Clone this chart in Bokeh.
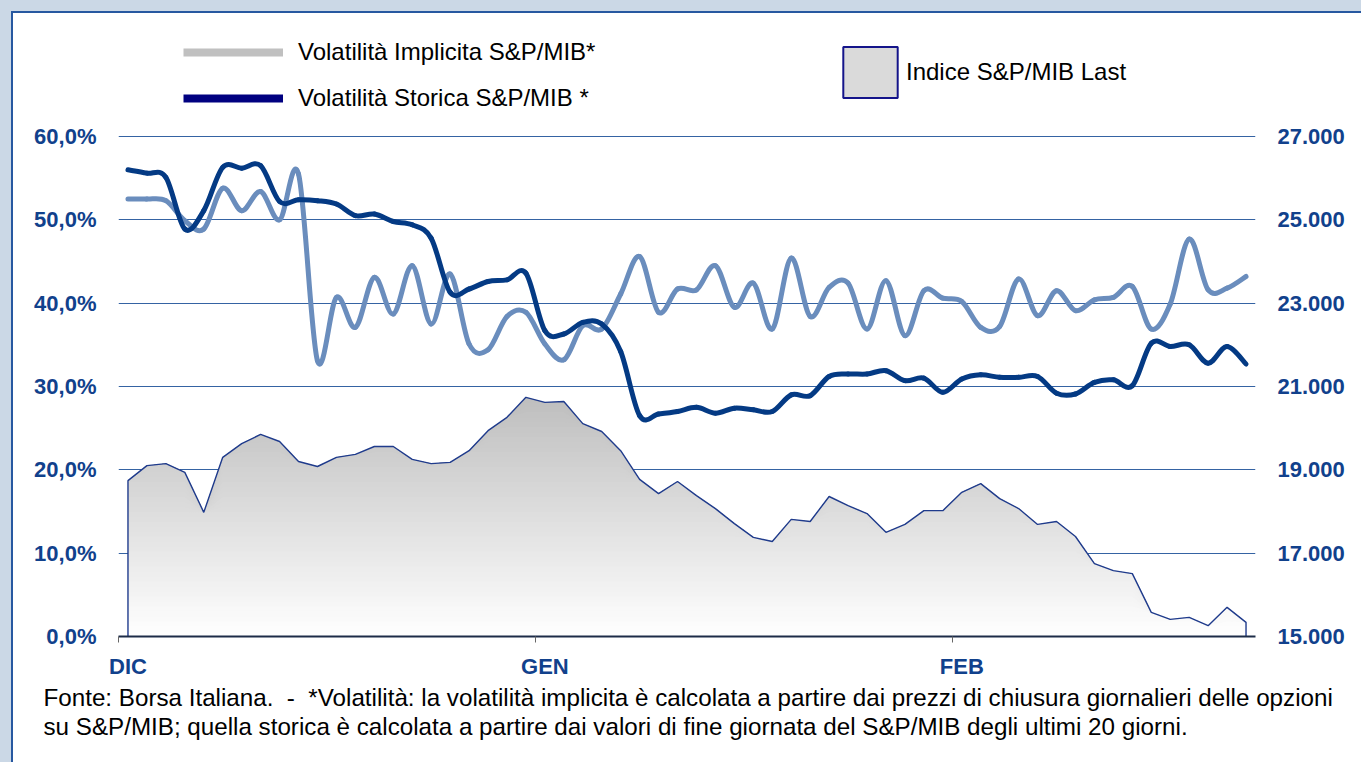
import numpy as np
from bokeh.plotting import figure
from bokeh.models import Range1d, LinearAxis, FixedTicker, Legend, LegendItem, Title
from bokeh.embed import file_html
from bokeh.resources import INLINE

# ---------------- data ----------------
months = ["DIC", "GEN", "FEB"]
month_start = [0, 22, 44]          # trading-day index where each month begins
n_days = 60

vol_implicita = [52.5, 52.5, 52.3, 49.9, 48.9, 53.8, 51.1, 53.4, 50.0, 55.5,
                 33.1, 40.7, 37.1, 43.1, 38.7, 44.5, 37.5, 43.5, 35.1, 34.4,
                 38.4, 38.9, 35.1, 33.2, 37.3, 36.9, 41.1, 45.6, 38.9, 41.7,
                 41.6, 44.5, 39.5, 42.4, 36.9, 45.4, 38.4, 41.9, 42.4, 36.9,
                 42.7, 36.1, 41.5, 40.6, 40.2, 37.1, 37.2, 42.9, 38.5, 41.5,
                 39.1, 40.4, 40.7, 42.0, 36.9, 39.9, 47.7, 41.6, 41.8, 43.2]

vol_storica = [56.0, 55.6, 55.1, 48.9, 51.1, 56.3, 56.2, 56.5, 52.2, 52.4,
               52.3, 51.9, 50.5, 50.7, 49.8, 49.4, 47.8, 41.3, 41.7, 42.6,
               42.8, 43.6, 36.7, 36.3, 37.7, 37.5, 34.2, 26.5, 26.7, 27.0,
               27.5, 26.8, 27.4, 27.2, 27.0, 29.0, 28.9, 31.2, 31.5, 31.5,
               31.9, 30.7, 31.0, 29.3, 30.9, 31.4, 31.1, 31.1, 31.2, 29.2,
               29.1, 30.5, 30.8, 30.1, 35.2, 34.8, 35.0, 32.8, 34.8, 32.7]

indice = [18740, 19100, 19150, 18940, 17980, 19300, 19630, 19850, 19680, 19200,
          19080, 19300, 19370, 19560, 19560, 19250, 19150, 19180, 19460, 19940,
          20260, 20740, 20620, 20640, 20110, 19920, 19460, 18770, 18430, 18720,
          18380, 18070, 17710, 17380, 17280, 17810, 17760, 18360, 18140, 17950,
          17500, 17690, 18020, 18020, 18460, 18670, 18310, 18070, 17690, 17760,
          17400, 16750, 16580, 16510, 15580, 15410, 15460, 15260, 15700, 15340]

pct_ticks = [0, 10, 20, 30, 40, 50, 60]
idx_ticks = [15000, 17000, 19000, 21000, 23000, 25000, 27000]
pct_labels = [f"{v:.1f}%".replace(".", ",") for v in pct_ticks]
idx_labels = [f"{v:,}".replace(",", ".") for v in idx_ticks]

legend_implicita = "Volatilità Implicita S&P/MIB*"
legend_storica = "Volatilità Storica S&P/MIB *"
legend_indice = "Indice S&P/MIB Last"
NB = "\u00a0"
note_1 = ("Fonte: Borsa Italiana." + NB + " -" + NB + " *Volatilità: la volatilità implicita è "
          "calcolata a partire dai prezzi di chiusura giornalieri delle opzioni")
note_2 = ("su S&P/MIB; quella storica è calcolata a partire dai valori di fine giornata del "
          "S&P/MIB degli ultimi 20 giorni.")

# ---------------- style ----------------
FONT = "Liberation Sans"
AXIS_BLUE = "#11418c"
GRID = "#3563a3"
C_IMPL = "#6a8dbd"
C_STOR = "#043a84"
C_AREA_LINE = "#1f3b8c"

days = np.arange(n_days) + 0.5
IDX_MIN, IDX_MAX = idx_ticks[0], idx_ticks[-1]

# plot frame is extended upward (empty headroom) so that the legends sit inside it
FRAME_PX = 500                       # pixel height of the 0..60 % span
HEAD_PX = 113                        # headroom above the 60 % gridline
pct_top = pct_ticks[-1] + HEAD_PX * (pct_ticks[-1] - pct_ticks[0]) / FRAME_PX
idx_top = IDX_MAX + HEAD_PX * (IDX_MAX - IDX_MIN) / FRAME_PX

p = figure(width=1339, height=740, output_backend="svg", toolbar_location=None,
           x_range=Range1d(0, n_days), y_range=Range1d(pct_ticks[0], pct_top),
           min_border_left=105, min_border_right=97, min_border_top=10, min_border_bottom=117,
           background_fill_color="white", border_fill_color="white")
p.outline_line_color = None
p.extra_y_ranges = {"idx": Range1d(IDX_MIN, idx_top)}

# ---- axes ----
p.yaxis.ticker = FixedTicker(ticks=pct_ticks)
p.yaxis.major_label_overrides = {t: l for t, l in zip(pct_ticks, pct_labels)}
p.xaxis.ticker = FixedTicker(ticks=[s + 0.5 for s in month_start], minor_ticks=month_start)
p.xaxis.major_label_overrides = {s + 0.5: m for s, m in zip(month_start, months)}

ax_r = LinearAxis(y_range_name="idx", ticker=FixedTicker(ticks=idx_ticks),
                  major_label_overrides={t: l for t, l in zip(idx_ticks, idx_labels)})
p.add_layout(ax_r, "right")

for ax in [p.yaxis[0], ax_r]:
    ax.axis_line_color = None
    ax.major_tick_line_color = None
    ax.minor_tick_line_color = None
    ax.major_tick_out = 0
    ax.major_label_standoff = 22
    ax.major_label_text_font = FONT
    ax.major_label_text_font_style = "bold"
    ax.major_label_text_font_size = "22px"
    ax.major_label_text_color = AXIS_BLUE

xa = p.xaxis[0]
xa.axis_line_color = "#1d2c48"
xa.axis_line_width = 2
xa.major_tick_line_color = None
xa.major_tick_out = 0
xa.minor_tick_line_color = "#666666"
xa.minor_tick_in = 0
xa.minor_tick_out = 6
xa.major_label_standoff = 11
xa.major_label_text_font = FONT
xa.major_label_text_font_style = "bold"
xa.major_label_text_font_size = "22px"
xa.major_label_text_color = AXIS_BLUE

p.xgrid.grid_line_color = None
p.ygrid.grid_line_color = GRID
p.ygrid.grid_line_width = 1

# ---- index area with vertical grey-to-white gradient (stacked bands) ----
idx_arr = np.asarray(indice, float)
top = idx_arr.max()
nb = 48
levels = np.linspace(top, IDX_MIN, nb + 1)
for k in range(nb):
    mid = 0.5 * (levels[k] + levels[k + 1])
    frac = (mid - IDX_MIN) / (top - IDX_MIN)
    g = int(round(255 - (255 - 190) * frac))
    p.varea(x=days, y1=IDX_MIN, y2=np.minimum(idx_arr, levels[k]),
            fill_color=f"#{g:02x}{g:02x}{g:02x}", y_range_name="idx")

p.line(x=np.concatenate([[days[0]], days, [days[-1]]]),
       y=np.concatenate([[IDX_MIN], idx_arr, [IDX_MIN]]),
       line_color=C_AREA_LINE, line_width=1.4, y_range_name="idx")


# ---- smoothed lines (Excel-style bezier smoothing) ----
def smooth(xs, ys):
    xs = np.asarray(xs, float)
    ys = np.asarray(ys, float)
    n = len(xs)
    i = np.arange(n - 1)
    i0 = np.maximum(i - 1, 0)
    i3 = np.minimum(i + 2, n - 1)
    return dict(x0=xs[i], y0=ys[i], x1=xs[i + 1], y1=ys[i + 1],
                cx0=xs[i] + (xs[i + 1] - xs[i0]) / 6, cy0=ys[i] + (ys[i + 1] - ys[i0]) / 6,
                cx1=xs[i + 1] - (xs[i3] - xs[i]) / 6, cy1=ys[i + 1] - (ys[i3] - ys[i]) / 6)


p.bezier(**smooth(days, vol_implicita), line_color=C_IMPL, line_width=5, line_cap="round")
p.bezier(**smooth(days, vol_storica), line_color=C_STOR, line_width=5, line_cap="round")

# ---- legends (legend-only proxy renderers, with no drawable points) ----
nan2 = [np.nan, np.nan]
r_leg_impl = p.line(x=days[:2], y=nan2, line_color="#c0c0c0", line_width=8)
r_leg_stor = p.line(x=days[:2], y=nan2, line_color="#000080", line_width=8)
r_leg_idx = p.patch(x=days[:3], y=[np.nan] * 3, fill_color="#dadada",
                    line_color="#14148a", line_width=2)

leg1 = Legend(items=[LegendItem(label=legend_implicita, renderers=[r_leg_impl]),
                     LegendItem(label=legend_storica, renderers=[r_leg_stor])],
              location=(65, 524), orientation="vertical",
              glyph_width=100, glyph_height=28, label_height=28, spacing=18,
              label_standoff=15, padding=0, margin=0,
              border_line_color=None, background_fill_alpha=0,
              label_text_font=FONT, label_text_font_size="24px", label_text_color="black")
leg2 = Legend(items=[LegendItem(label=legend_indice, renderers=[r_leg_idx])],
              location=(718, 532), orientation="vertical",
              glyph_width=68, glyph_height=64, label_height=64,
              label_standoff=2, padding=0, margin=0,
              border_line_color=None, background_fill_alpha=0,
              label_text_font=FONT, label_text_font_size="24px", label_text_color="black")
p.add_layout(leg1, "center")
p.add_layout(leg2, "center")

# ---- footnote (two title lines below the x axis) ----
for txt in [note_1, note_2]:
    p.add_layout(Title(text=txt, align="left", offset=-75, standoff=0,
                       text_font=FONT, text_font_size="24.2px", text_font_style="normal",
                       text_color="black"), "below")

html = file_html(p, INLINE, title="Volatilità S&P/MIB")
css = ("<style>html{background:"
       "linear-gradient(#2758a0,#2758a0) 11px 11px/100% 2px no-repeat,"
       "linear-gradient(#2758a0,#2758a0) 11px 11px/2px 100% no-repeat,"
       "linear-gradient(#cbd8e6,#cbd8e6) 0 0/100% 11px no-repeat,"
       "linear-gradient(#cbd8e6,#cbd8e6) 0 0/11px 100% no-repeat,#ffffff;min-height:100%;}"
       "body{margin:0;padding:13px 0 0 13px;}</style>")
html = html.replace("</head>", css + "</head>", 1)
open("out.html", "w").write(html)
